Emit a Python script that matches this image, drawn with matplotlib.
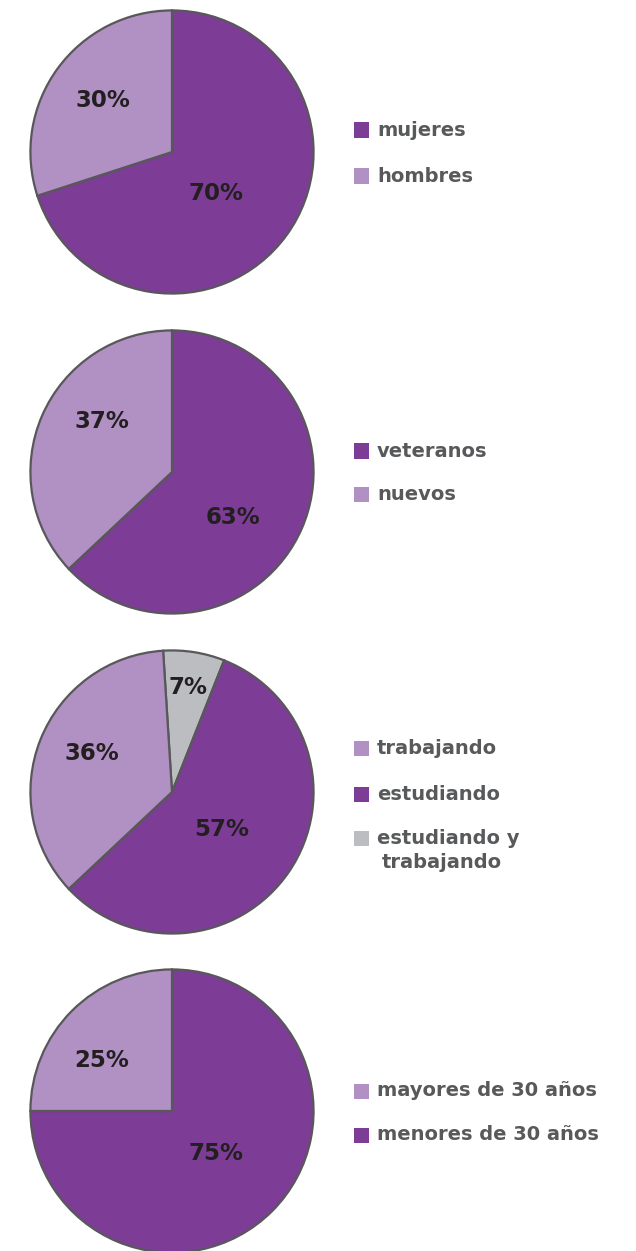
import matplotlib
matplotlib.use("Agg")
import matplotlib.pyplot as plt
from matplotlib.patches import Rectangle

W, H = 636, 1251
DARK = "#7d3c96"
LIGHT = "#b190c3"
GREY = "#bcbdc1"
EDGE = "#58585a"
TXT = "#231f20"
LEG = "#58595b"

# data
pie1_labels = ["mujeres", "hombres"]
pie1_values = [70, 30]
pie2_labels = ["veteranos", "nuevos"]
pie2_values = [63, 37]
pie3_labels = ["estudiando y\ntrabajando", "estudiando", "trabajando"]
pie3_values = [7, 57, 36]
pie4_labels = ["menores de 30 años", "mayores de 30 años"]
pie4_values = [75, 25]

pies = [
    dict(values=pie1_values, colors=[DARK, LIGHT], start=90, cy=152,
         lab=[(0.31, -0.29), (-0.48, 0.36)],
         legend=[(pie1_labels[0], DARK, 130), (pie1_labels[1], LIGHT, 176)]),
    dict(values=pie2_values, colors=[DARK, LIGHT], start=90, cy=472,
         lab=[(0.43, -0.32), (-0.49, 0.35)],
         legend=[(pie2_labels[0], DARK, 451), (pie2_labels[1], LIGHT, 495)]),
    dict(values=pie3_values, colors=[GREY, DARK, LIGHT], start=93.6, cy=792,
         lab=[(0.11, 0.73), (0.35, -0.26), (-0.56, 0.27)],
         legend=[(pie3_labels[2], LIGHT, 748), (pie3_labels[1], DARK, 794),
                 (pie3_labels[0], GREY, 838)]),
    dict(values=pie4_values, colors=[DARK, LIGHT], start=90, cy=1111,
         lab=[(0.31, -0.30), (-0.49, 0.35)],
         legend=[(pie4_labels[1], LIGHT, 1091), (pie4_labels[0], DARK, 1135)]),
]

fig = plt.figure(figsize=(W / 100, H / 100), dpi=100)
fig.patch.set_facecolor("white")

cx, r = 172, 143
for p in pies:
    cy = p["cy"]
    ax = fig.add_axes([(cx - r) / W, (H - cy - r) / H, 2 * r / W, 2 * r / H])
    ax.pie(p["values"], colors=p["colors"], startangle=p["start"], counterclock=False,
           radius=0.99, wedgeprops=dict(edgecolor=EDGE, linewidth=1.6))
    ax.set_xlim(-1, 1)
    ax.set_ylim(-1, 1)
    ax.set_aspect("equal")
    ax.axis("off")
    for v, (lx, ly) in zip(p["values"], p["lab"]):
        ax.text(lx, ly, f"{v}%", ha="center", va="center", fontsize=16.5,
                fontweight="bold", color=TXT, family="DejaVu Sans")
    for name, col, ty in p["legend"]:
        sq = 15
        fig.patches.append(Rectangle((354 / W, (H - ty - sq / 2) / H), sq / W, sq / H,
                                     transform=fig.transFigure, facecolor=col,
                                     edgecolor="none"))
        lines = name.split("\n")
        for i, ln in enumerate(lines):
            x = 377 if i == 0 else 382
            fig.text(x / W, (H - ty - i * 25) / H, ln, ha="left", va="center",
                     fontsize=14, fontweight="bold", color=LEG, family="DejaVu Sans")

fig.savefig("out.png", dpi=100, facecolor="white")
